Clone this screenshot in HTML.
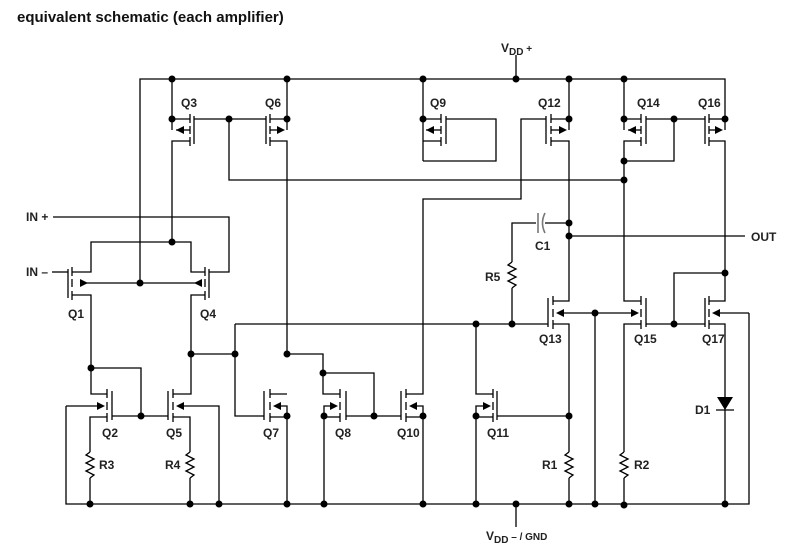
<!DOCTYPE html>
<html><head><meta charset="utf-8"><style>
html,body{margin:0;padding:0;background:#fff;}
svg{display:block;}
text{font-family:"Liberation Sans",Arial,sans-serif;font-weight:bold;font-size:12px;fill:#222;}
</style></head><body>
<svg width="810" height="549" viewBox="0 0 810 549" xmlns="http://www.w3.org/2000/svg">
<text x="17" y="22" style="font-size:15px;fill:#111">equivalent schematic (each amplifier)</text>
<text x="501" y="52">V<tspan dy="3" font-size="10">DD</tspan><tspan dy="-3" font-size="10"> +</tspan></text>
<text x="486" y="540">V<tspan dy="3" font-size="10">DD</tspan><tspan dy="-3" font-size="10"> – / GND</tspan></text>
<g stroke="#000" stroke-width="1.3" fill="none">
<!-- rails -->
<polyline points="140,283 140,79 725,79 725,130"/>
<line x1="516" y1="79" x2="516" y2="55"/>
<polyline points="66,406 66,504 749,504 749,313"/>
<line x1="516" y1="504" x2="516" y2="527"/>
<!-- top row verticals -->
<line x1="172" y1="79" x2="172" y2="130"/>
<line x1="287" y1="79" x2="287" y2="130"/>
<line x1="423" y1="79" x2="423" y2="161"/>
<line x1="569" y1="79" x2="569" y2="130"/>
<line x1="624" y1="79" x2="624" y2="130"/>
<!-- Q3 -->
<polyline points="172,119 190,119"/><polyline points="176,130 190,130"/><polyline points="190,141 172,141 172,242"/>
<!-- Q6 -->
<polyline points="270,119 287,119"/><polyline points="270,130 282,130"/><polyline points="270,141 287,141 287,354"/>
<!-- gate line Q3-Q6 -->
<line x1="194" y1="119" x2="266" y2="119"/>
<polyline points="229,119 229,180 624,180"/>
<!-- Q9 -->
<line x1="423" y1="119" x2="441" y2="119"/><line x1="426" y1="130" x2="441" y2="130"/><line x1="441" y1="141" x2="423" y2="141"/>
<polyline points="423,161 496,161 496,119 446,119"/>
<!-- Q12 -->
<line x1="551" y1="119" x2="569" y2="119"/><line x1="551" y1="130" x2="564" y2="130"/>
<polyline points="551,141 569,141 569,301 553,301"/>
<polyline points="546,119 521,119 521,199 423,199 423,394 406,394"/>
<!-- Q14 -->
<line x1="624" y1="119" x2="641" y2="119"/><line x1="628" y1="130" x2="641" y2="130"/>
<polyline points="641,141 624,141 624,301 641,301"/>
<polyline points="646,119 705,119"/>
<polyline points="624,161 674,161 674,119"/>
<!-- Q16 -->
<line x1="709" y1="119" x2="725" y2="119"/><line x1="709" y1="130" x2="721" y2="130"/>
<polyline points="709,141 725,141 725,301 709,301"/>
<polyline points="725,273 674,273 674,324"/>
<!-- C1, R5, OUT -->
<polyline points="569,223 545,223"/>
<line x1="569" y1="236" x2="745" y2="236"/>
<polyline points="512,324 512,288"/><polyline points="512,262 512,223 536,223"/>
<!-- Q1 / Q4 -->
<polyline points="172,242 91,242 91,272 72,272"/>
<polyline points="172,242 191,242 191,272 205,272"/>
<line x1="52" y1="272" x2="68" y2="272"/>
<polyline points="53,217 229,217 229,272 209,272"/>
<line x1="80" y1="283" x2="196" y2="283"/>
<polyline points="72,295 91,295 91,394 107,394"/>
<polyline points="205,295 191,295 191,394 173,394"/>
<polyline points="91,368 141,368 141,416"/>
<!-- Q2 -->
<line x1="66" y1="406" x2="100" y2="406"/>
<polyline points="107,417 90,417 90,452"/><line x1="90" y1="478" x2="90" y2="504"/>
<line x1="112" y1="416" x2="168" y2="416"/>
<!-- Q5 -->
<polyline points="180,406 219,406 219,504"/>
<polyline points="173,417 190,417 190,452"/><line x1="190" y1="478" x2="190" y2="504"/>
<!-- Q5 drain to Q7 -->
<polyline points="191,354 234,354"/>
<polyline points="235,324 235,416 264,416"/>
<line x1="235" y1="324" x2="548" y2="324"/>
<!-- Q7 -->
<polyline points="270,394 287,394"/><polyline points="278,406 287,406 287,504"/><line x1="270" y1="417" x2="287" y2="417"/>
<!-- Q8 -->
<polyline points="287,354 323,354 323,394 340,394"/>
<polyline points="323,373 374,373 374,416"/>
<polyline points="333,406 324,406 324,504"/><line x1="340" y1="417" x2="324" y2="417"/>
<line x1="346" y1="416" x2="401" y2="416"/>
<!-- Q10 -->
<polyline points="413,406 423,406 423,504"/><line x1="406" y1="417" x2="423" y2="417"/>
<!-- Q11 -->
<polyline points="476,324 476,394 493,394"/>
<polyline points="486,406 476,406 476,504"/><line x1="493" y1="417" x2="476" y2="417"/>
<line x1="497" y1="416" x2="569" y2="416"/>
<!-- Q13 -->
<line x1="560" y1="313" x2="633" y2="313"/>
<polyline points="553,324 569,324 569,452"/><line x1="569" y1="478" x2="569" y2="504"/>
<line x1="595" y1="313" x2="595" y2="504"/>
<!-- Q15 -->
<polyline points="641,324 624,324 624,452"/><line x1="624" y1="478" x2="624" y2="504"/>
<line x1="646" y1="324" x2="705" y2="324"/>
<!-- Q17 -->
<line x1="717" y1="313" x2="749" y2="313"/>
<polyline points="709,324 725,324 725,504"/>
<line x1="716" y1="410" x2="734" y2="410"/>
<!-- resistors -->
<polyline points="90,452 86,455 94,459 86,463 94,467 86,471 94,475 90,478"/>
<polyline points="190,452 186,455 194,459 186,463 194,467 186,471 194,475 190,478"/>
<polyline points="512,262 508,265 516,269 508,273 516,277 508,281 516,285 512,288"/>
<polyline points="569,452 565,455 573,459 565,463 573,467 565,471 573,475 569,478"/>
<polyline points="624,452 620,455 628,459 620,463 628,467 620,471 628,475 624,478"/>
</g>
<!-- capacitor (gray) -->
<g stroke="#777" stroke-width="1.6" fill="none">
<line x1="538" y1="213" x2="538" y2="233"/>
<path d="M545,213 Q540,223 545,233"/>
</g>
<!-- channels and gates -->
<g stroke="#000" stroke-width="1.3">
<!-- top row t119 m130 b141 -->
<path d="M190,114V123M190,126V134M190,137V146M194,116V144
M270,114V123M270,126V134M270,137V146M266,116V144
M441,114V123M441,126V134M441,137V146M446,116V144
M551,114V123M551,126V134M551,137V146M546,116V144
M641,114V123M641,126V134M641,137V146M646,116V144
M709,114V123M709,126V134M709,137V146M705,116V144"/>
<!-- Q1,Q4 t272 m283 b295 -->
<path d="M72,267V276M72,279V287M72,291V300M68,269V298
M205,267V276M205,279V287M205,291V300M209,269V298"/>
<!-- bottom row t394 m406 b417 -->
<path d="M107,389V398M107,402V410M107,413V422M112,391V420
M173,389V398M173,402V410M173,413V422M168,391V420
M270,389V398M270,402V410M270,413V422M264,391V420
M340,389V398M340,402V410M340,413V422M346,391V420
M406,389V398M406,402V410M406,413V422M401,391V420
M493,389V398M493,402V410M493,413V422M497,391V420"/>
<!-- mid row t301 m313 b324 -->
<path d="M553,296V305M553,309V317M553,320V329M548,298V327
M641,296V305M641,309V317M641,320V329M646,298V327
M709,296V305M709,309V317M709,320V329M705,298V327"/>
</g>
<!-- arrows -->
<g fill="#000">
<polygon points="176,130 184,126 184,134"/>
<polygon points="285,130 277,126 277,134"/>
<polygon points="426,130 434,126 434,134"/>
<polygon points="567,130 559,126 559,134"/>
<polygon points="628,130 636,126 636,134"/>
<polygon points="723,130 715,126 715,134"/>
<polygon points="88,283 80,279 80,287"/>
<polygon points="194,283 202,279 202,287"/>
<polygon points="105,406 97,402 97,410"/>
<polygon points="176,406 184,402 184,410"/>
<polygon points="273,406 281,402 281,410"/>
<polygon points="338,406 330,402 330,410"/>
<polygon points="409,406 417,402 417,410"/>
<polygon points="491,406 483,402 483,410"/>
<polygon points="556,313 564,309 564,317"/>
<polygon points="639,313 631,309 631,317"/>
<polygon points="712,313 720,309 720,317"/>
<polygon points="717,397 733,397 725,410"/>
</g>
<!-- dots -->
<g fill="#000">
<circle cx="172" cy="79" r="3.5"/><circle cx="287" cy="79" r="3.5"/><circle cx="423" cy="79" r="3.5"/><circle cx="516" cy="79" r="3.5"/><circle cx="569" cy="79" r="3.5"/><circle cx="624" cy="79" r="3.5"/>
<circle cx="172" cy="119" r="3.5"/><circle cx="287" cy="119" r="3.5"/><circle cx="423" cy="119" r="3.5"/><circle cx="569" cy="119" r="3.5"/><circle cx="624" cy="119" r="3.5"/><circle cx="725" cy="119" r="3.5"/><circle cx="229" cy="119" r="3.5"/><circle cx="674" cy="119" r="3.5"/>
<circle cx="624" cy="161" r="3.5"/><circle cx="624" cy="180" r="3.5"/><circle cx="569" cy="223" r="3.5"/><circle cx="569" cy="236" r="3.5"/><circle cx="725" cy="273" r="3.5"/>
<circle cx="674" cy="324" r="3.5"/><circle cx="595" cy="313" r="3.5"/><circle cx="512" cy="324" r="3.5"/><circle cx="476" cy="324" r="3.5"/>
<circle cx="172" cy="242" r="3.5"/><circle cx="140" cy="283" r="3.5"/><circle cx="191" cy="354" r="3.5"/><circle cx="235" cy="354" r="3.5"/><circle cx="287" cy="354" r="3.5"/><circle cx="323" cy="373" r="3.5"/><circle cx="91" cy="368" r="3.5"/>
<circle cx="141" cy="416" r="3.5"/><circle cx="374" cy="416" r="3.5"/><circle cx="287" cy="416" r="3.5"/><circle cx="324" cy="416" r="3.5"/><circle cx="423" cy="416" r="3.5"/><circle cx="476" cy="416" r="3.5"/><circle cx="569" cy="416" r="3.5"/>
<circle cx="90" cy="504" r="3.5"/><circle cx="190" cy="504" r="3.5"/><circle cx="219" cy="504" r="3.5"/><circle cx="287" cy="504" r="3.5"/><circle cx="324" cy="504" r="3.5"/><circle cx="423" cy="504" r="3.5"/><circle cx="476" cy="504" r="3.5"/><circle cx="516" cy="504" r="3.5"/><circle cx="569" cy="504" r="3.5"/><circle cx="595" cy="504" r="3.5"/><circle cx="624" cy="505" r="3.5"/><circle cx="725" cy="504" r="3.5"/>
</g>
<!-- labels -->
<text x="181" y="107">Q3</text><text x="265" y="107">Q6</text><text x="430" y="107">Q9</text><text x="538" y="107">Q12</text><text x="637" y="107">Q14</text><text x="698" y="107">Q16</text>
<text x="26" y="221">IN +</text><text x="26" y="276">IN –</text>
<text x="68" y="318">Q1</text><text x="200" y="318">Q4</text>
<text x="535" y="250">C1</text><text x="485" y="281">R5</text><text x="751" y="241">OUT</text>
<text x="539" y="343">Q13</text><text x="634" y="343">Q15</text><text x="702" y="343">Q17</text>
<text x="102" y="437">Q2</text><text x="166" y="437">Q5</text><text x="263" y="437">Q7</text><text x="335" y="437">Q8</text><text x="397" y="437">Q10</text><text x="487" y="437">Q11</text>
<text x="99" y="469">R3</text><text x="165" y="469">R4</text><text x="542" y="469">R1</text><text x="634" y="469">R2</text><text x="695" y="414">D1</text>
</svg>
</body></html>
